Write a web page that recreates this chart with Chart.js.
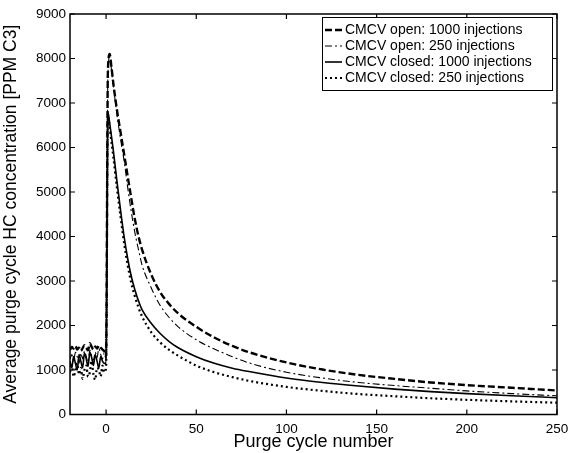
<!DOCTYPE html>
<html>
<head>
<meta charset="utf-8">
<script src="https://cdn.jsdelivr.net/npm/chart.js@4"></script>
<style>
  html, body { margin: 0; padding: 0; background: #fff; }
  #wrap { width: 569px; height: 453px; }
</style>
</head>
<body>
<div id="wrap"><canvas id="c" width="569" height="453"></canvas></div>
<script>
// ---- data ----
const preX = [-20,-19,-18,-17,-16,-15,-14,-13,-12,-11,-10,-9,-8,-7,-6,-5,-4,-3,-2,-1,0];
const decayX = [1,2,3,4,6,8,10,12,14,16,18,20,25,30,35,40,50,60,70,80,100,120,140,160,180,200,225,250];

const openPre1000 = [1450,1520,1480,1540,1460,1500,1430,1490,1560,1500,1440,1600,1520,1460,1530,1480,1550,1500,1460,1420,1300];
const openDecay1000 = [7700,8100,7800,7450,6850,6350,5850,5350,4850,4380,4000,3700,3150,2750,2480,2270,1970,1730,1540,1390,1170,1010,890,800,720,660,600,540];

const openPre250 = [1250,1350,1200,1400,1300,1150,1380,1250,1420,1300,1180,1450,1320,1220,1400,1280,1480,1350,1250,1380,1250];
const openDecay250 = [7600,8050,7750,7400,6750,6200,5700,5100,4550,4080,3700,3350,2850,2450,2180,1970,1680,1470,1300,1150,950,820,720,650,590,530,470,420];

const closedPre1000 = [1200,1050,1300,1150,1000,1350,1200,1050,1380,1250,1080,1400,1280,1100,1350,1200,1050,1300,1200,1150,1150];
const closedDecay1000 = [6800,6550,6250,5940,5250,4600,4000,3500,3100,2800,2550,2350,2050,1820,1640,1500,1300,1150,1040,960,820,720,640,570,515,470,420,378];

const closedPre250 = [950,1100,850,1000,1150,900,1050,800,1000,1100,850,950,1200,900,780,1050,1000,850,1100,950,1050];
const closedDecay250 = [6700,6450,6120,5800,5100,4450,3850,3350,2950,2650,2400,2200,1850,1620,1450,1320,1100,950,840,750,620,530,460,410,365,330,295,265];

const xTicks = [0,50,100,150,200,250];
const yTicks = [0,1000,2000,3000,4000,5000,6000,7000,8000,9000];
const seriesNames = ['CMCV open: 1000 injections','CMCV open: 250 injections','CMCV closed: 1000 injections','CMCV closed: 250 injections'];

function pts(pre, decay) {
  const out = [];
  preX.forEach((x, i) => out.push({x: x, y: pre[i]}));
  decayX.forEach((x, i) => out.push({x: x, y: decay[i]}));
  return out;
}

const styles = [
  {borderDash: [7, 3], borderWidth: 2.4},
  {borderDash: [7, 3, 2, 3], borderWidth: 1.1},
  {borderDash: [], borderWidth: 1.6},
  {borderDash: [2, 3], borderWidth: 2.2}
];

const datasets = [
  pts(openPre1000, openDecay1000),
  pts(openPre250, openDecay250),
  pts(closedPre1000, closedDecay1000),
  pts(closedPre250, closedDecay250)
].map((d, i) => ({
  label: seriesNames[i],
  data: d,
  borderColor: '#000',
  backgroundColor: '#000',
  borderWidth: styles[i].borderWidth,
  borderDash: styles[i].borderDash,
  pointRadius: 0,
  fill: false,
  cubicInterpolationMode: 'monotone'
}));

const FONT = "'Liberation Sans', Arial, sans-serif";

const frame = {
  id: 'frame',
  afterDatasetsDraw(chart) {
    const {ctx, chartArea: a, scales} = chart;
    ctx.save();
    ctx.strokeStyle = '#000';
    ctx.lineWidth = 1.5;
    ctx.setLineDash([]);
    ctx.strokeRect(a.left, a.top, a.right - a.left, a.bottom - a.top);
    ctx.lineWidth = 1.2;
    const L = 5;
    xTicks.forEach(v => {
      const px = scales.x.getPixelForValue(v);
      ctx.beginPath();
      ctx.moveTo(px, a.bottom); ctx.lineTo(px, a.bottom - L);
      ctx.moveTo(px, a.top); ctx.lineTo(px, a.top + L);
      ctx.stroke();
    });
    yTicks.forEach(v => {
      const py = scales.y.getPixelForValue(v);
      ctx.beginPath();
      ctx.moveTo(a.left, py); ctx.lineTo(a.left + L, py);
      ctx.moveTo(a.right, py); ctx.lineTo(a.right - L, py);
      ctx.stroke();
    });
    // legend
    const bx = 322, by = 17, bw = 230, bh = 73;
    ctx.fillStyle = '#fff';
    ctx.fillRect(bx, by, bw, bh);
    ctx.lineWidth = 1;
    ctx.strokeRect(bx + 0.5, by + 0.5, bw, bh);
    ctx.font = '14px ' + FONT;
    ctx.textBaseline = 'middle';
    ctx.fillStyle = '#000';
    seriesNames.forEach((name, i) => {
      const y = by + 13 + i * 16;
      ctx.beginPath();
      ctx.setLineDash(styles[i].borderDash);
      ctx.lineWidth = styles[i].borderWidth;
      ctx.moveTo(bx + 3, y); ctx.lineTo(bx + 20, y);
      ctx.stroke();
      ctx.setLineDash([]);
      ctx.fillText(name, bx + 23, y + 0.5);
    });
    ctx.restore();
  }
};

new Chart(document.getElementById('c'), {
  type: 'line',
  data: {datasets},
  options: {
    responsive: false,
    animation: false,
    devicePixelRatio: 1,
    layout: {padding: {top: 14, right: 12, left: 0, bottom: 0}},
    plugins: {legend: {display: false}, tooltip: {enabled: false}},
    scales: {
      x: {
        type: 'linear', min: -20, max: 250,
        afterBuildTicks: s => { s.ticks = xTicks.map(v => ({value: v})); },
        afterFit: s => { s.height = 38.5; s.paddingLeft = 0; s.paddingRight = 0; },
        grid: {display: false, drawTicks: false},
        border: {display: false},
        ticks: {color: '#000', font: {family: FONT, size: 13.5}, padding: 7, maxRotation: 0, callback: v => String(v)},
        title: {display: true, text: 'Purge cycle number', color: '#000', font: {family: FONT, size: 18}, padding: {top: 0, bottom: 0}}
      },
      y: {
        type: 'linear', min: 0, max: 9000,
        afterBuildTicks: s => { s.ticks = yTicks.map(v => ({value: v})); },
        afterFit: s => { s.width = 70; s.paddingTop = 0; s.paddingBottom = 0; },
        grid: {display: false, drawTicks: false},
        border: {display: false},
        ticks: {color: '#000', font: {family: FONT, size: 13.5}, padding: 4, callback: v => String(v)},
        title: {display: true, text: 'Average purge cycle HC concentration [PPM C3]', color: '#000', font: {family: FONT, size: 17.5}, padding: {top: 1, bottom: 0}}
      }
    }
  },
  plugins: [frame]
});
</script>
</body>
</html>
